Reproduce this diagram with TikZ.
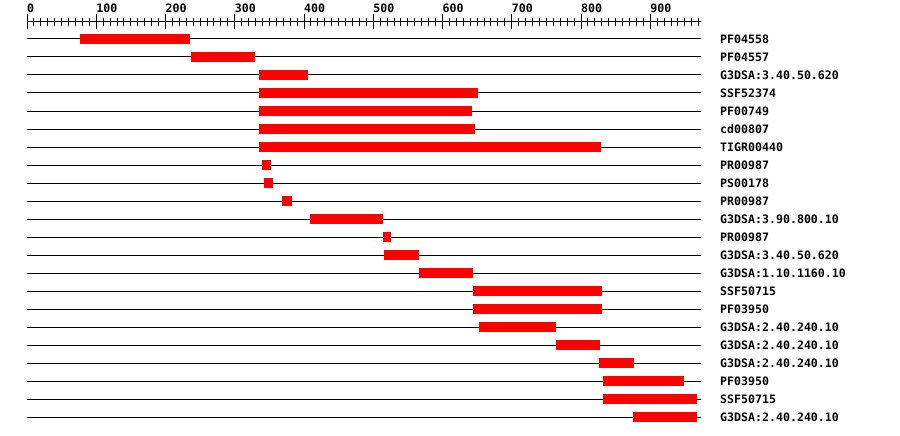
\documentclass[tikz,border=0pt]{standalone}
\usepackage{fontspec}
\setmonofont{DejaVu Sans Mono}
\usetikzlibrary{positioning}
\tikzset{
  track/.style={line width=1pt},
  hitbar/.style={fill=red, draw=none},
  featlabel/.style={font=\ttfamily\bfseries\fontsize{11.6}{12}\selectfont, anchor=west, inner sep=0pt},
}
% start/end/name of every hit, one row each
\def\featrows{77/235/PF04558, 237/329/PF04557, 335/406/G3DSA:3.40.50.620,
  335/651/SSF52374, 335/643/PF00749, 335/647/cd00807, 335/829/TIGR00440,
  339/352/PR00987, 342/355/PS00178, 368/383/PR00987, 409/514/G3DSA:3.90.800.10,
  514/526/PR00987, 515/566/G3DSA:3.40.50.620, 566/644/G3DSA:1.10.1160.10,
  644/830/SSF50715, 644/830/PF03950, 653/764/G3DSA:2.40.240.10,
  764/827/G3DSA:2.40.240.10, 826/876/G3DSA:2.40.240.10, 832/949/PF03950,
  832/968/SSF50715, 875/968/G3DSA:2.40.240.10}
\begin{document}
\begin{tikzpicture}[x=1pt,y=-1pt]
    \useasboundingbox[fill=white] (0,0) rectangle (900,436);

    \begin{scope}[xshift=27pt, x=0.6925pt]
        % Ruler
        \draw[track] (0,22) -- (973,22);
        \foreach \t in {0,10,...,970}
            \draw[track] (\t,18.5) -- (\t,26);
        \foreach \t in {0,100,...,900} {
            \draw[track] (\t,14) -- (\t,29);
            \node[featlabel] (tick\t) at (\t,8) {\t};
        }

        % Sequence tracks with hits
        \foreach \a/\b/\lab [count=\i] in \featrows {
            \pgfmathsetmacro{\yy}{39+18*(\i-1)}
            \draw[track] (0,\yy) -- (973,\yy);
            \fill[hitbar] (\a,\yy-4.6) rectangle (\b,\yy+4.6);
        }
    \end{scope}

    % Hit names
    \foreach \a/\b/\lab [count=\i] in \featrows {
        \pgfmathsetmacro{\yy}{39+18*(\i-1)}
        \node[featlabel] (name\i) at (720,\yy) {\lab};
    }
\end{tikzpicture}
\end{document}
